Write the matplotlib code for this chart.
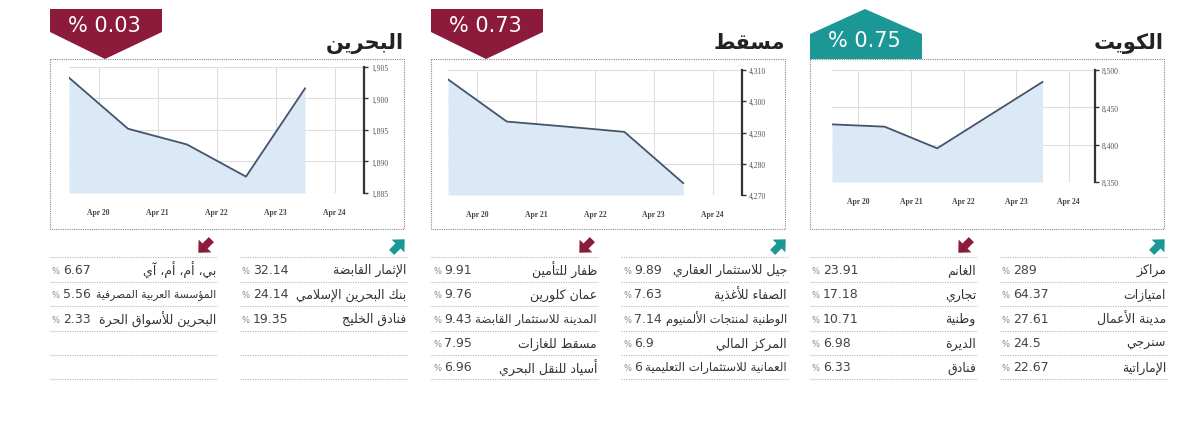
import matplotlib
matplotlib.use("Agg")
import matplotlib.pyplot as plt
import matplotlib.dates as mdates
import numpy as np
import pandas as pd
from matplotlib.patches import Polygon, Rectangle
from matplotlib.ticker import FuncFormatter

# ---- data ----
dates = ["2024-04-19 12:00", "2024-04-20 12:00", "2024-04-21 12:00",
         "2024-04-22 12:00", "2024-04-23 12:00"]
tick_dates = ["2024-04-20", "2024-04-21", "2024-04-22", "2024-04-23", "2024-04-24"]

kuwait_values = [8427.2, 8424.1, 8395.1, 8439.5, 8483.9]
muscat_values = [4307.0, 4293.5, 4291.9, 4290.2, 4273.8]
bahrain_values = [1903.3, 1895.2, 1892.7, 1887.6, 1901.6]

kuwait_yticks = [8350, 8400, 8450, 8500]
muscat_yticks = [4270, 4280, 4290, 4300, 4310]
bahrain_yticks = [1885, 1890, 1895, 1900, 1905]

kuwait_change = "% 0.75"
muscat_change = "% 0.73"
bahrain_change = "% 0.03"

kuwait_up_names = ["مراكز", "امتيازات", "مدينة الأعمال", "سنرجي", "الإماراتية"]
kuwait_up_values = ["289", "64.37", "27.61", "24.5", "22.67"]
kuwait_down_names = ["الغانم", "تجاري", "وطنية", "الديرة", "فنادق"]
kuwait_down_values = ["23.91", "17.18", "10.71", "6.98", "6.33"]

muscat_up_names = ["جيل للاستثمار العقاري", "الصفاء للأغذية", "الوطنية لمنتجات الألمنيوم",
                   "المركز المالي", "العمانية للاستثمارات التعليمية"]
muscat_up_values = ["9.89", "7.63", "7.14", "6.9", "6"]
muscat_down_names = ["ظفار للتأمين", "عمان كلورين", "المدينة للاستثمار القابضة",
                     "مسقط للغازات", "أسياد للنقل البحري"]
muscat_down_values = ["9.91", "9.76", "9.43", "7.95", "6.96"]

bahrain_up_names = ["الإثمار القابضة", "بنك البحرين الإسلامي", "فنادق الخليج"]
bahrain_up_values = ["32.14", "24.14", "19.35"]
bahrain_down_names = ["بي، أم، أم، آي", "المؤسسة العربية المصرفية", "البحرين للأسواق الحرة"]
bahrain_down_values = ["6.67", "5.56", "2.33"]

TEAL = "#1b9896"
MAROON = "#8c1a3b"
LINE = "#44546a"
FILL = "#dbe9f6"

# ---- tiny arabic shaper (matplotlib does no shaping / rtl) ----
FORMS = {
    "\u0621": (0xFE80, 1), "\u0622": (0xFE81, 2), "\u0623": (0xFE83, 2),
    "\u0624": (0xFE85, 2), "\u0625": (0xFE87, 2), "\u0626": (0xFE89, 4),
    "\u0627": (0xFE8D, 2), "\u0628": (0xFE8F, 4), "\u0629": (0xFE93, 2),
    "\u062A": (0xFE95, 4), "\u062B": (0xFE99, 4), "\u062C": (0xFE9D, 4),
    "\u062D": (0xFEA1, 4), "\u062E": (0xFEA5, 4), "\u062F": (0xFEA9, 2),
    "\u0630": (0xFEAB, 2), "\u0631": (0xFEAD, 2), "\u0632": (0xFEAF, 2),
    "\u0633": (0xFEB1, 4), "\u0634": (0xFEB5, 4), "\u0635": (0xFEB9, 4),
    "\u0636": (0xFEBD, 4), "\u0637": (0xFEC1, 4), "\u0638": (0xFEC5, 4),
    "\u0639": (0xFEC9, 4), "\u063A": (0xFECD, 4), "\u0641": (0xFED1, 4),
    "\u0642": (0xFED5, 4), "\u0643": (0xFED9, 4), "\u0644": (0xFEDD, 4),
    "\u0645": (0xFEE1, 4), "\u0646": (0xFEE5, 4), "\u0647": (0xFEE9, 4),
    "\u0648": (0xFEED, 2), "\u0649": (0xFEEF, 2), "\u064A": (0xFEF1, 4),
}
LAM_ALEF = {"\u0622": 0xFEF5, "\u0623": 0xFEF7, "\u0625": 0xFEF9, "\u0627": 0xFEFB}


def nforms(t):
    if isinstance(t, tuple):
        return 2
    return FORMS[t][1] if t in FORMS else 0


def ar(text):
    seq = []
    i = 0
    while i < len(text):
        c = text[i]
        if c == "\u0644" and i + 1 < len(text) and text[i + 1] in LAM_ALEF:
            seq.append(("la", text[i + 1]))
            i += 2
        else:
            seq.append(c)
            i += 1
    out = []
    for k, t in enumerate(seq):
        n = nforms(t)
        if n == 0:
            out.append(t)
            continue
        prev = seq[k - 1] if k > 0 else None
        nxt = seq[k + 1] if k + 1 < len(seq) else None
        jp = prev is not None and nforms(prev) == 4 and n >= 2
        jn = n == 4 and nxt is not None and nforms(nxt) >= 2
        base = LAM_ALEF[t[1]] if isinstance(t, tuple) else FORMS[t][0]
        if n == 1:
            off = 0
        elif jp and jn:
            off = 3
        elif jp:
            off = 1
        elif jn:
            off = 2
        else:
            off = 0
        out.append(chr(base + off))
    return "".join(reversed(out))


plt.rcParams["font.family"] = ["DejaVu Sans"]

W, H = 1200, 435
fig = plt.figure(figsize=(12, 4.35), dpi=100)
fig.patch.set_facecolor("white")
renderer = fig.canvas.get_renderer()

# overlay in pixel coords (y down)
ov = fig.add_axes([0, 0, 1, 1])
ov.set_xlim(0, W)
ov.set_ylim(H, 0)
ov.axis("off")


def px_axes(x0, y0, x1, y1):
    return fig.add_axes([x0 / W, 1 - y1 / H, (x1 - x0) / W, (y1 - y0) / H])


def arrow_icon(cx, cy, up, color):
    # chunky arrow, pointing up-right or down-left
    pts = np.array([[-0.95, -0.38], [0.0, -0.38], [0.0, -0.95], [1.0, 0.0],
                    [0.0, 0.95], [0.0, 0.38], [-0.95, 0.38]])
    ang = np.deg2rad(-45 if up else 135)
    rot = np.array([[np.cos(ang), -np.sin(ang)], [np.sin(ang), np.cos(ang)]])
    p = pts @ rot.T * 9.5
    ov.add_patch(Polygon(p + [cx, cy], closed=True, color=color, lw=0))


def badge(L, up, text):
    if up:
        pts = [(L, 60), (L, 35), (L + 55, 10), (L + 112, 35), (L + 112, 60)]
        ty = 41
        col = TEAL
    else:
        pts = [(L, 10), (L + 112, 10), (L + 112, 33), (L + 55, 60), (L, 33)]
        ty = 26
        col = MAROON
    ov.add_patch(Polygon(pts, closed=True, color=col, lw=0))
    ov.text(L + 54, ty, text, color="white", fontsize=15, ha="center", va="center")


def table(x0, x1, names, values):
    for y in [258, 283, 307, 332, 356, 380]:
        ov.plot([x0, x1], [y, y], color="#b5b5b5", lw=0.8, ls=(0, (1, 1.2)))
    rows = [270.5, 295, 319.5, 344, 368]
    for name, val, y in zip(names, values, rows):
        ov.text(x0 + 2, y + 1, "%", fontsize=6, color="#888888", ha="left", va="center")
        v = ov.text(x0 + 13, y, val, fontsize=9, color="#444444", ha="left", va="center")
        t = ov.text(x1 - 1, y, ar(name), fontsize=9, color="#333333",
                    ha="right", va="center")
        # shrink long names so they don't run into the value
        vend = x0 + 13 + v.get_window_extent(renderer).width
        avail = (x1 - 1) - (vend + 4)
        w = t.get_window_extent(renderer).width
        if w > avail:
            t.set_fontsize(9 * avail / w)


def panel(L, title, values, yticks, ax_box, change, up,
          up_names, up_values, down_names, down_values):
    # dotted frame
    ov.add_patch(Rectangle((L, 60), 354, 170, fill=False, ec="#8a8a8a",
                           lw=0.8, ls=(0, (1, 1))))
    ov.text(L + 354, 43, ar(title), fontsize=15, fontweight="bold", color="#222222",
            ha="right", va="center")
    badge(L, up, change)

    ax = px_axes(*ax_box)
    x = pd.to_datetime(dates)
    lo, hi = yticks[0], yticks[-1]
    ax.fill_between(x, values, lo, color=FILL, lw=0)
    ax.plot(x, values, color=LINE, lw=1.3)
    ax.set_xlim(pd.Timestamp("2024-04-19 12:00"), pd.Timestamp("2024-04-24 12:00"))
    ax.set_ylim(lo, hi)
    ax.set_xticks(pd.to_datetime(tick_dates))
    ax.xaxis.set_major_formatter(mdates.DateFormatter("%b %d"))
    ax.set_yticks(yticks)
    ax.yaxis.set_major_formatter(FuncFormatter(lambda v, p: f"{v:,.0f}"))
    ax.yaxis.tick_right()
    for s in ["top", "left", "bottom"]:
        ax.spines[s].set_visible(False)
    ax.spines["right"].set_color("#333333")
    ax.spines["right"].set_linewidth(1.6)
    ax.grid(True, color="#dedede", lw=0.8)
    ax.set_axisbelow(True)
    ax.tick_params(axis="x", length=0, pad=11, labelsize=5.5, labelcolor="#444444")
    ax.tick_params(axis="y", length=3, width=1, color="#333333", pad=2,
                   labelsize=5.5, labelcolor="#555555")
    for lab in ax.get_xticklabels():
        lab.set_fontfamily("Liberation Serif")
        lab.set_fontweight("bold")
    for lab in ax.get_yticklabels():
        lab.set_fontfamily("Liberation Serif")

    arrow_icon(L + 348, 247, True, TEAL)
    arrow_icon(L + 155, 247, False, MAROON)
    table(L + 190, L + 357, up_names, up_values)
    table(L, L + 167, down_names, down_values)


panel(50, "البحرين", bahrain_values, bahrain_yticks, (69, 68, 364, 194),
      bahrain_change, False, bahrain_up_names, bahrain_up_values,
      bahrain_down_names, bahrain_down_values)
panel(431, "مسقط", muscat_values, muscat_yticks, (448, 71, 742, 196),
      muscat_change, False, muscat_up_names, muscat_up_values,
      muscat_down_names, muscat_down_values)
panel(810, "الكويت", kuwait_values, kuwait_yticks, (832, 71, 1095, 183),
      kuwait_change, True, kuwait_up_names, kuwait_up_values,
      kuwait_down_names, kuwait_down_values)

fig.savefig("out.png", dpi=100, facecolor="white")
